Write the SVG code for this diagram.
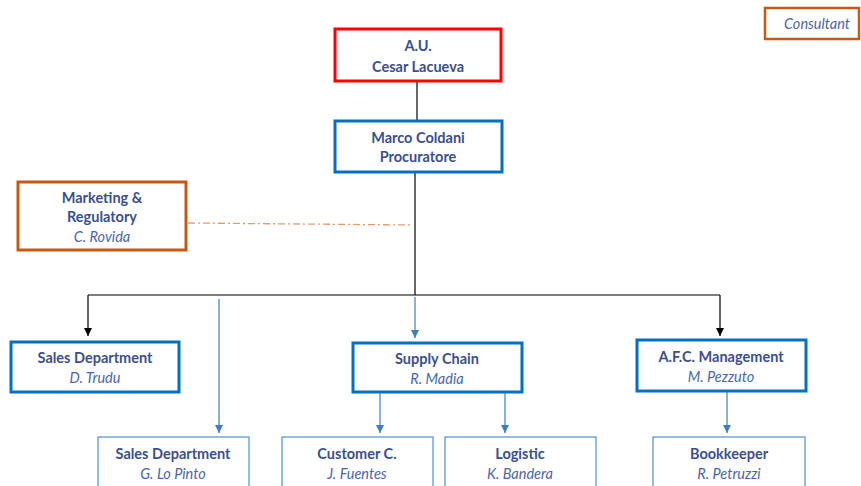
<svg xmlns="http://www.w3.org/2000/svg" width="861" height="486" viewBox="0 0 861 486">
<defs>
<marker id="ab" viewBox="0 0 10 10" refX="10" refY="5" markerWidth="8" markerHeight="8" orient="auto" markerUnits="userSpaceOnUse"><path d="M0,0 L10,5 L0,10 z" fill="#000"/></marker>
<marker id="abl" viewBox="0 0 10 10" refX="10" refY="5" markerWidth="8" markerHeight="8" orient="auto" markerUnits="userSpaceOnUse"><path d="M0,0 L10,5 L0,10 z" fill="#3F7CC0"/></marker>
<style>
.t{font-family:Lato,"Liberation Sans",sans-serif;font-size:14.5px;fill:#3B4F8E;text-anchor:middle}
.b{font-weight:bold}
.i{font-style:italic;fill:#4D66AA}
.red{fill:#fff;stroke:#FF0000;stroke-width:3}
.thick{fill:#fff;stroke:#0070C0;stroke-width:3}
.thin{fill:#fff;stroke:#4F8FD0;stroke-width:1.2}
.or{fill:#fff;stroke:#C55A11;stroke-width:3}
.k{stroke:#000;stroke-width:1.2;fill:none}
.bl{stroke:#3F7CC0;stroke-width:1.2;fill:none}
</style>
</defs>
<g id="connectors">
<line class="k" x1="417" y1="81" x2="417" y2="121" stroke="#555"/>
<line class="k" x1="415" y1="172" x2="415" y2="295"/>
<polyline class="k" points="88,295 720,295"/>
<line class="k" x1="88" y1="295" x2="88" y2="336" marker-end="url(#ab)"/>
<line class="k" x1="720" y1="295" x2="720" y2="336" marker-end="url(#ab)"/>
<line class="bl" x1="415" y1="297" x2="415" y2="338" marker-end="url(#abl)"/>
<line class="bl" x1="219" y1="299" x2="219" y2="433" marker-end="url(#abl)"/>
<line class="bl" x1="380" y1="393" x2="380" y2="433" marker-end="url(#abl)"/>
<line class="bl" x1="505" y1="393" x2="505" y2="433" marker-end="url(#abl)"/>
<line class="bl" x1="727" y1="392" x2="727" y2="433" marker-end="url(#abl)"/>
<line x1="188" y1="223" x2="413" y2="225" stroke="#E8996A" stroke-width="1.3" stroke-dasharray="7,3,2,3"/>
</g>
<g id="consultant"><rect class="or" x="765" y="8" width="94" height="31" style="stroke-width:2.5"/><text class="t i" x="817" y="29">Consultant</text></g>
<g id="au"><rect class="red" x="335" y="29" width="166" height="52"/><text class="t b" x="418" y="51">A.U.</text><text class="t b" x="418" y="72">Cesar Lacueva</text></g>
<g id="coldani"><rect class="thick" x="335" y="121" width="167" height="51"/><text class="t b" x="418" y="143">Marco Coldani</text><text class="t b" x="418" y="162">Procuratore</text></g>
<g id="marketing"><rect class="or" x="18" y="182" width="168" height="68"/><text class="t b" x="102" y="203">Marketing &amp;</text><text class="t b" x="102" y="222">Regulatory</text><text class="t i" x="102" y="242">C. Rovida</text></g>
<g id="sales1"><rect class="thick" x="11" y="342" width="168" height="50"/><text class="t b" x="95" y="363">Sales Department</text><text class="t i" x="95" y="383">D. Trudu</text></g>
<g id="supply"><rect class="thick" x="353" y="343" width="169" height="49"/><text class="t b" x="437" y="364">Supply Chain</text><text class="t i" x="437" y="384">R. Madia</text></g>
<g id="afc"><rect class="thick" x="637" y="340" width="169" height="51"/><text class="t b" x="721" y="362">A.F.C. Management</text><text class="t i" x="721" y="382">M. Pezzuto</text></g>
<g id="sales2"><rect class="thin" x="98" y="437" width="151" height="60"/><text class="t b" x="173" y="459">Sales Department</text><text class="t i" x="173" y="479">G. Lo Pinto</text></g>
<g id="customer"><rect class="thin" x="282" y="437" width="151" height="60"/><text class="t b" x="357" y="459">Customer C.</text><text class="t i" x="357" y="479">J. Fuentes</text></g>
<g id="logistic"><rect class="thin" x="445" y="437" width="151" height="60"/><text class="t b" x="520" y="459">Logistic</text><text class="t i" x="520" y="479">K. Bandera</text></g>
<g id="bookkeeper"><rect class="thin" x="653" y="437" width="152" height="60"/><text class="t b" x="729" y="459">Bookkeeper</text><text class="t i" x="729" y="479">R. Petruzzi</text></g>
</svg>
